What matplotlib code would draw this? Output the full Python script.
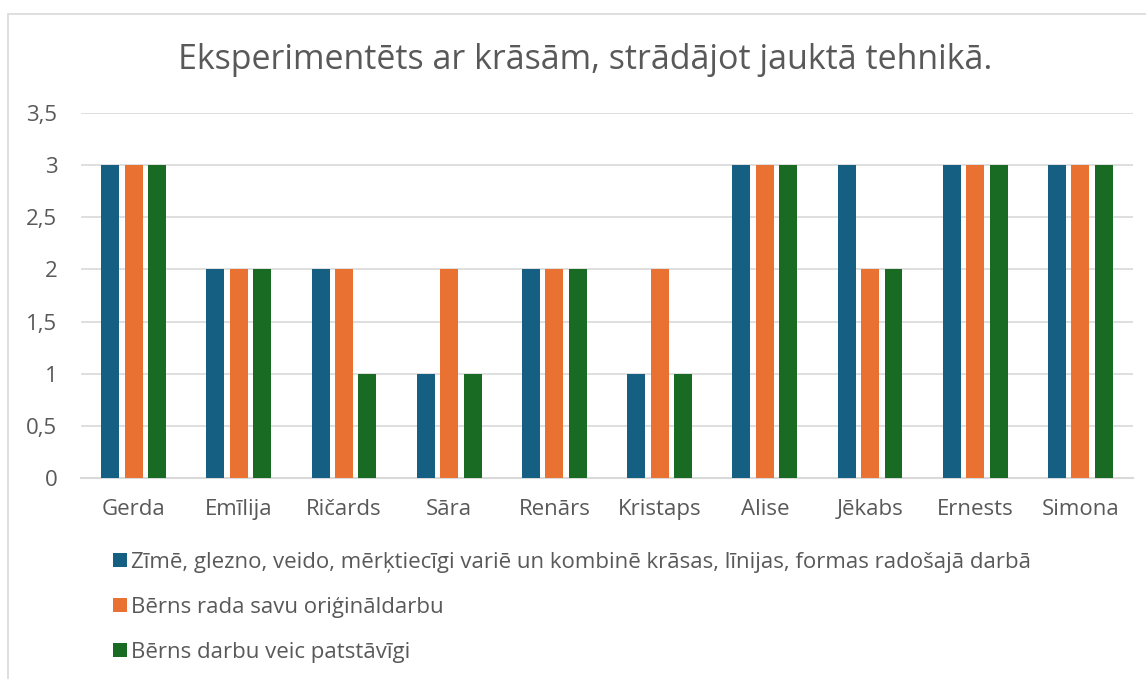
import matplotlib.pyplot as plt
import matplotlib.patches as mpatches
import numpy as np
from matplotlib.ticker import FuncFormatter

plt.rcParams["font.family"] = ["Open Sans", "DejaVu Sans"]

names = ["Gerda", "Emīlija", "Ričards", "Sāra", "Renārs",
         "Kristaps", "Alise", "Jēkabs", "Ernests", "Simona"]
zime = [3, 2, 2, 1, 2, 1, 3, 3, 3, 3]
originals = [3, 2, 2, 2, 2, 2, 3, 2, 3, 3]
patstavigi = [3, 2, 1, 1, 2, 1, 3, 2, 3, 3]

series_labels = [
    "Zīmē, glezno, veido, mērķtiecīgi variē un kombinē krāsas, līnijas, formas radošajā darbā",
    "Bērns rada savu oriģināldarbu",
    "Bērns darbu veic patstāvīgi",
]
colors = ["#156082", "#E97132", "#196B24"]
txt = "#595959"

fig = plt.figure(figsize=(11.46, 6.79), dpi=100)
ax = fig.add_axes([0.0707, 0.296, 0.918, 0.5376])

x = np.arange(len(names))
width = 0.171
pitch = 0.223
for i, vals in enumerate([zime, originals, patstavigi]):
    ax.bar(x + (i - 1) * pitch, vals, width, color=colors[i], label=series_labels[i], zorder=3)

ax.set_xlim(-0.5, len(names) - 0.5)
ax.set_ylim(0, 3.5)
ax.set_yticks(np.arange(0, 3.51, 0.5))
ax.yaxis.set_major_formatter(FuncFormatter(lambda v, p: f"{v:g}".replace(".", ",")))
ax.set_xticks(x)
ax.set_xticklabels(names)
ax.tick_params(axis="both", length=0, labelsize=16, colors=txt)
ax.tick_params(axis="x", pad=15)
ax.tick_params(axis="y", pad=17)
ax.grid(axis="y", color="#D9D9D9", linewidth=1.2, zorder=0)
for s in ["top", "right", "left"]:
    ax.spines[s].set_visible(False)
ax.spines["bottom"].set_color("#D9D9D9")
ax.spines["bottom"].set_linewidth(1.5)

fig.text(0.511, 0.911, "Eksperimentēts ar krāsām, strādājot jauktā tehnikā.",
         ha="center", va="center", fontsize=24.5, color=txt)

fig.legend(loc="upper left", bbox_to_anchor=(0.091, 0.2), frameon=False,
           fontsize=16, labelcolor=txt, handlelength=0.6, handleheight=0.6,
           handletextpad=0.2, labelspacing=1.08, borderaxespad=0)

# chart border
fig.patches.append(mpatches.Rectangle((8 / 1146, -0.1), 1.2, 1 - 14 / 679 + 0.1,
                                      transform=fig.transFigure, fill=False,
                                      edgecolor="#D9D9D9", linewidth=1.2))

fig.savefig("out.png", dpi=100)
